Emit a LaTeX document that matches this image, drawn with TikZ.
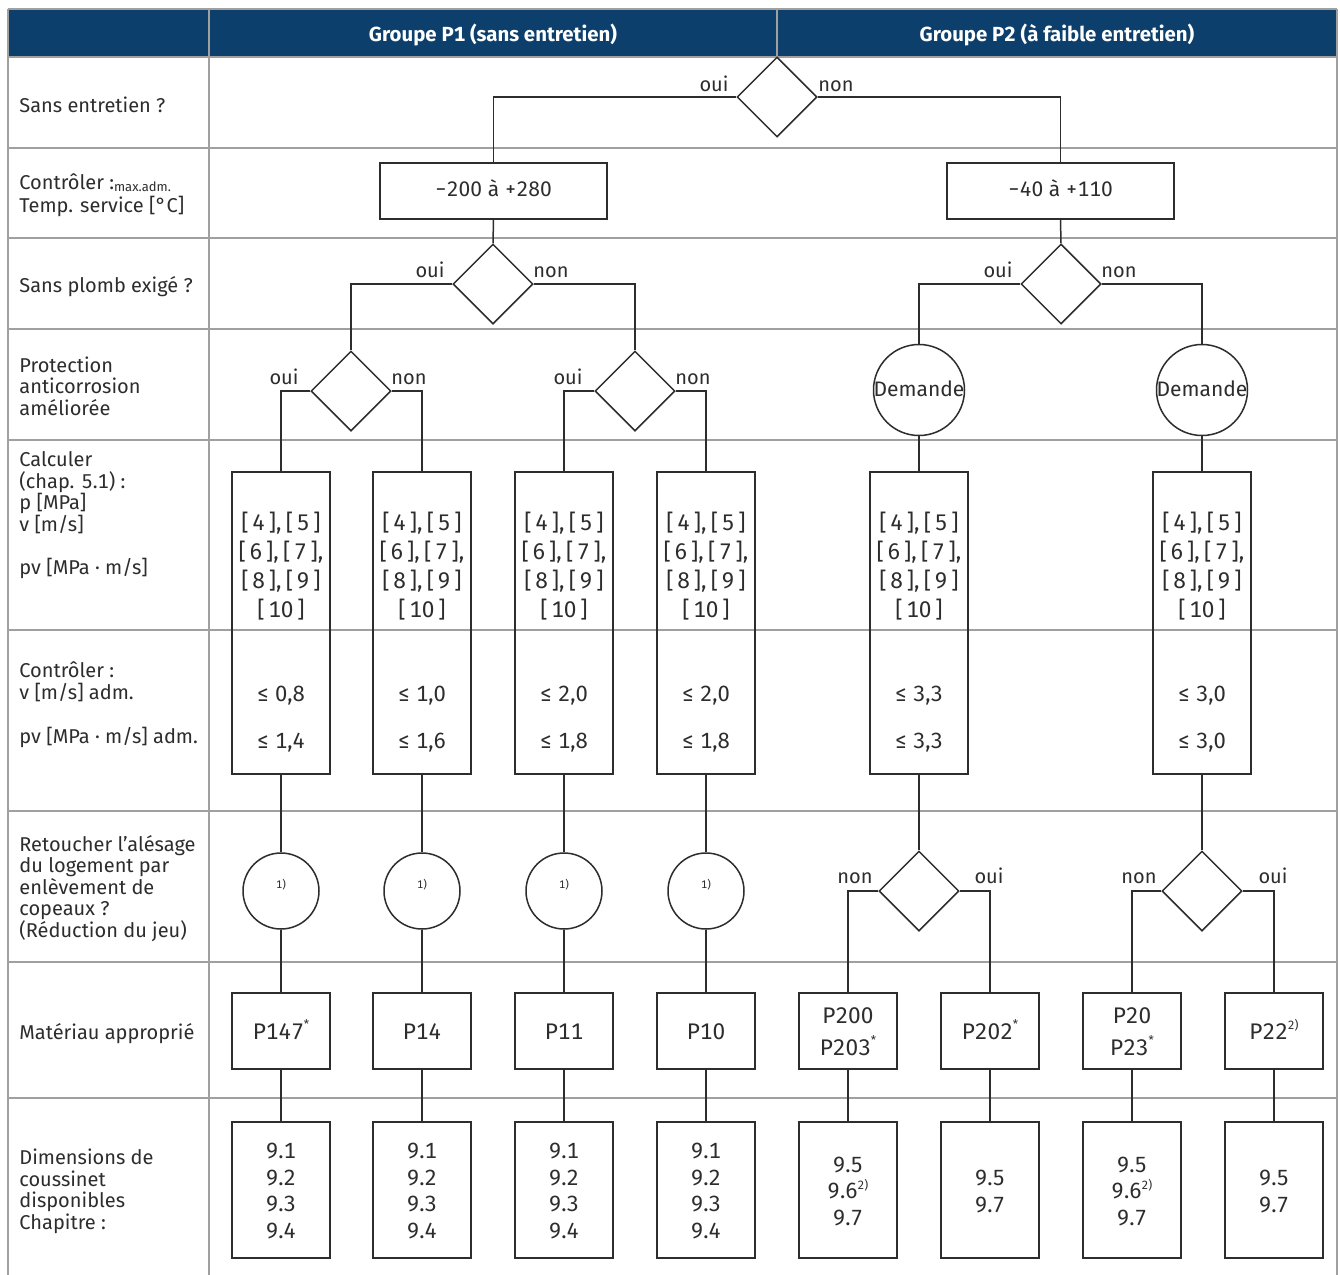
\documentclass[tikz,border=0pt]{standalone}
\usepackage{fontspec}
\setmainfont{Fira Sans}[Numbers=Monospaced]
\usetikzlibrary{shapes.geometric}
\definecolor{hdr}{RGB}{13,63,108}
\definecolor{gridc}{RGB}{160,160,160}
\definecolor{ink}{RGB}{45,45,45}
\newcommand\supst{\raisebox{0.45em}{\fontsize{6}{6}\selectfont *}}
\newcommand\suptwo{\raisebox{0.42em}{\fontsize{6}{6}\selectfont 2)}}
\newcommand\cs{,\hspace{2.2pt}}
\begin{document}
\begin{tikzpicture}[x=0.5pt,y=-0.5pt,
  gridline/.style={draw=gridc,line width=1pt},
  flow/.style={draw=ink,line width=0.75pt},
  dec/.style={diamond,flow,minimum width=40pt,minimum height=40pt,inner sep=0pt},
  circ/.style={circle,flow,inner sep=0pt},
  box/.style={rectangle,flow,inner sep=0pt,minimum width=49pt},
  lab/.style={anchor=base west,align=left,inner sep=0pt,text=ink,font=\fontsize{10}{10.7}\selectfont},
  yn/.style={anchor=base,inner sep=0pt,text=ink,font=\fontsize{10}{12}\selectfont},
  hdrtxt/.style={anchor=base,inner sep=0pt,text=white,font=\fontsize{10.2}{12}\selectfont\bfseries},
  brk/.style={anchor=base,align=center,inner sep=0pt,text=ink,font=\fontsize{11.3}{14.5}\selectfont},
  lim/.style={anchor=base,align=center,inner sep=0pt,text=ink,font=\fontsize{11}{23.5}\selectfont},
  mat/.style={anchor=base,align=center,inner sep=0pt,text=ink,font=\fontsize{11.3}{16}\selectfont},
  chap/.style={anchor=base,align=center,inner sep=0pt,text=ink,font=\fontsize{11}{13.25}\selectfont},
  tmp/.style={rectangle,flow,minimum width=113.5pt,minimum height=28pt,inner sep=0pt,text height=5pt,text depth=0pt,text=ink,font=\fontsize{10.5}{12}\selectfont}
]
\useasboundingbox (0,0) rectangle (1340,1275);
\fill[white] (0,0) rectangle (1340,1275);
% header
\fill[hdr] (8,9) rectangle (1337,57);
\node[hdrtxt] (h1) at (493,41) {Groupe P1 (sans entretien)};
\node[hdrtxt] (h2) at (1057,41) {Groupe P2 (à faible entretien)};
% grid
\foreach \y in {9,57,148,238,329,440,630,811,962,1098}
  \draw[gridline] (8,\y) -- (1337,\y);
\foreach \x in {8,209,1337}
  \draw[gridline] (\x,9) -- (\x,1275);
\draw[gridline] (777,9) -- (777,57);
% left labels (base anchor = last line)
\node[lab] (l1) at (19,112) {Sans entretien ?};
\node[lab,font=\fontsize{10}{11.5}\selectfont] (l2) at (19,212) {Contrôler :\raisebox{-1.2pt}{\fontsize{6.5}{7}\selectfont max.adm.}\\Temp. service [°C]};
\node[lab] (l3) at (19,292) {Sans plomb exigé ?};
\node[lab] (l4) at (19,415) {Protection\\anticorrosion\\améliorée};
\node[lab] (l5) at (19,531) {Calculer\\(chap. 5.1) :\\p [MPa]\\v [m/s]};
\node[lab] (l6) at (19,574) {pv [MPa · m/s]};
\node[lab] (l7) at (19,699) {Contrôler :\\v [m/s] adm.};
\node[lab] (l8) at (19,743) {pv [MPa · m/s] adm.};
\node[lab] (l9) at (19,937) {Retoucher l{\char"27}alésage\\du logement par\\enlèvement de\\copeaux ?\\(Réduction du jeu)};
\node[lab] (l10) at (19,1039) {Matériau approprié};
\node[lab] (l11) at (19,1229) {Dimensions de\\coussinet\\disponibles\\Chapitre :};
% decisions and boxes
\node[dec] (d1) at (777,97) {};
\node[tmp] (b1) at (493.5,191) {−200 à +280};
\node[tmp] (b2) at (1060.5,191) {−40 à +110};
\node[dec] (d2) at (493,284) {};
\node[dec] (d3) at (1061,284) {};
\node[dec] (d4) at (351,391) {};
\node[dec] (d5) at (635,391) {};
\node[circ,minimum size=45.5pt] (c1) at (919,390) {};
\node[circ,minimum size=45.5pt] (c2) at (1202,390) {};
\node[anchor=base,inner sep=0pt,text=ink,font=\fontsize{10.5}{12}\selectfont] (c1t) at (919,396) {Demande};
\node[anchor=base,inner sep=0pt,text=ink,font=\fontsize{10.5}{12}\selectfont] (c2t) at (1202,396) {Demande};
% yes/no labels
\node[yn] (y1a) at (714,91) {oui};  \node[yn] (y1b) at (836,91) {non};
\node[yn] (y2a) at (430,277) {oui}; \node[yn] (y2b) at (551,277) {non};
\node[yn] (y3a) at (998,277) {oui}; \node[yn] (y3b) at (1119,277) {non};
\node[yn] (y4a) at (284,384) {oui}; \node[yn] (y4b) at (409,384) {non};
\node[yn] (y5a) at (568,384) {oui}; \node[yn] (y5b) at (693,384) {non};
\node[yn] (y6a) at (855,883) {non}; \node[yn] (y6b) at (989,883) {oui};
\node[yn] (y7a) at (1139,883) {non}; \node[yn] (y7b) at (1273,883) {oui};
% calc boxes
\foreach \i/\x/\a/\b in {1/281/{0,8}/{1,4},2/422/{1,0}/{1,6},3/564/{2,0}/{1,8},4/706/{2,0}/{1,8},5/919/{3,3}/{3,3},6/1202/{3,0}/{3,0}} {
  \node[box,minimum height=151pt] (k\i) at (\x,623) {};
  \node[brk] (kt\i) at (\x,617) {[\,4\,]\cs[\,5\,]\\{}[\,6\,]\cs[\,7\,],\\{}[\,8\,]\cs[\,9\,]\\{}[\,10\,]};
  \node[lim] (kl\i) at (\x,748) {≤ \a\\≤ \b};
}
% remachining circles
\foreach \i/\x in {1/281,2/422,3/564,4/706} {
  \node[circ,minimum size=38pt] (r\i) at (\x,891) {};
  \node[anchor=base,inner sep=0pt,text=ink,font=\fontsize{5.5}{6}\selectfont] (rt\i) at (\x,888) {1)};
}
\node[dec] (d6) at (919,891) {};
\node[dec] (d7) at (1202,891) {};
% material boxes
\foreach \i/\x in {1/281,2/422,3/564,4/706,5/848,6/990,7/1132,8/1274} {
  \node[box,minimum height=38pt] (m\i) at (\x,1031) {};
}
\node[mat] (mt1) at (281,1039) {P147\supst};
\node[mat] (mt2) at (422,1039) {P14};
\node[mat] (mt3) at (564,1039) {P11};
\node[mat] (mt4) at (706,1039) {P10};
\node[mat] (mt5) at (848,1055) {P200\\P203\supst};
\node[mat] (mt6) at (990,1039) {P202\supst};
\node[mat] (mt7) at (1132,1055) {P20\\P23\supst};
\node[mat] (mt8) at (1274,1039) {P22\suptwo};
% chapter boxes
\foreach \i/\x in {1/281,2/422,3/564,4/706,5/848,6/990,7/1132,8/1274} {
  \node[box,minimum height=68pt] (ch\i) at (\x,1190) {};
}
\foreach \i/\x in {1/281,2/422,3/564,4/706} {
  \node[chap] (cht\i) at (\x,1238) {9.1\\9.2\\9.3\\9.4};
}
\node[chap] (cht5) at (848,1225) {9.5\\9.6\suptwo\\9.7};
\node[chap] (cht6) at (990,1212) {9.5\\9.7};
\node[chap] (cht7) at (1132,1225) {9.5\\9.6\suptwo\\9.7};
\node[chap] (cht8) at (1274,1212) {9.5\\9.7};
% connectors
\draw[flow] (d1.west) -| (b1.north);
\draw[flow] (d1.east) -| (b2.north);
\draw[flow] (b1.south) -- (d2.north);
\draw[flow] (b2.south) -- (d3.north);
\draw[flow] (d2.west) -| (d4.north);
\draw[flow] (d2.east) -| (d5.north);
\draw[flow] (d3.west) -| (c1.north);
\draw[flow] (d3.east) -| (c2.north);
\draw[flow] (d4.west) -| (k1.north);
\draw[flow] (d4.east) -| (k2.north);
\draw[flow] (d5.west) -| (k3.north);
\draw[flow] (d5.east) -| (k4.north);
\draw[flow] (c1.south) -- (k5.north);
\draw[flow] (c2.south) -- (k6.north);
\foreach \i in {1,2,3,4} {
  \draw[flow] (k\i.south) -- (r\i.north);
  \draw[flow] (r\i.south) -- (m\i.north);
}
\draw[flow] (k5.south) -- (d6.north);
\draw[flow] (k6.south) -- (d7.north);
\draw[flow] (d6.west) -| (m5.north);
\draw[flow] (d6.east) -| (m6.north);
\draw[flow] (d7.west) -| (m7.north);
\draw[flow] (d7.east) -| (m8.north);
\foreach \i in {1,...,8} {
  \draw[flow] (m\i.south) -- (ch\i.north);
}
\end{tikzpicture}
\end{document}
